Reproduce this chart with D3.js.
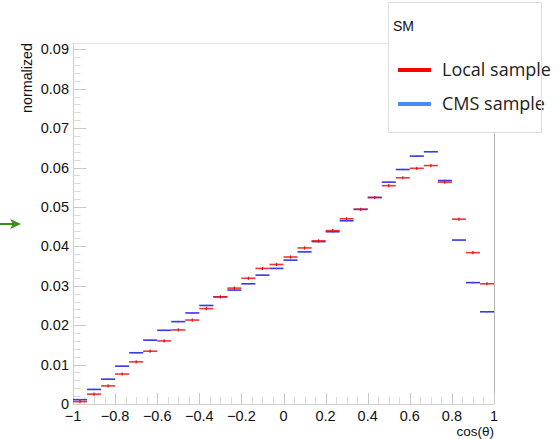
<!DOCTYPE html>
<html>
<head>
<meta charset="utf-8">
<script src="https://cdn.jsdelivr.net/npm/d3@7/dist/d3.min.js"></script>
<style>
  html, body { margin: 0; padding: 0; background: #fff; }
  svg { display: block; }
</style>
</head>
<body>
<svg id="chart" width="560" height="439"></svg>
<script>
// ---- data ----
var binEdgesMin = -1, binEdgesMax = 1, nBins = 30;

// normalized content per bin, left to right
var localSample = [
  0.0006, 0.0025, 0.0046, 0.0076, 0.0107, 0.0134, 0.0160, 0.0188, 0.0213, 0.0242,
  0.0272, 0.0294, 0.0319, 0.0344, 0.0354, 0.0373, 0.0396, 0.0414, 0.0440, 0.0470,
  0.0494, 0.0524, 0.0554, 0.0574, 0.0598, 0.0605, 0.0563, 0.0469, 0.0384, 0.0305
];
var cmsSample = [
  0.0011, 0.0037, 0.0063, 0.0096, 0.0130, 0.0162, 0.0187, 0.0209, 0.0231, 0.0250,
  0.0272, 0.0289, 0.0305, 0.0327, 0.0344, 0.0365, 0.0386, 0.0412, 0.0437, 0.0465,
  0.0494, 0.0524, 0.0563, 0.0595, 0.0629, 0.0640, 0.0567, 0.0416, 0.0308, 0.0234
];
var localErr = 0.0004, cmsErr = 0.0002;

var xTicks = [-1, -0.8, -0.6, -0.4, -0.2, 0, 0.2, 0.4, 0.6, 0.8, 1];
var yTicks = [0, 0.01, 0.02, 0.03, 0.04, 0.05, 0.06, 0.07, 0.08, 0.09];
var legendTitle = 'SM';
var legendNames = ['Local sample', 'CMS sample'];
var legendColors = ['#ff0000', '#4a8af4'];

(function() {
  // ---- layout ----
  var svg = d3.select('#chart');
  var plotL = 73, plotR = 494, plotT = 43, plotB = 404;

  var x = d3.scaleLinear().domain([-1, 1]).range([plotL, plotR]);
  var y = d3.scaleLinear().domain([0, 0.0916]).range([plotB, plotT]);

  var tickFont = '"Liberation Sans", Arial, sans-serif';
  var axisGray = '#d0d0d0';

  // frame lines (top + right)
  svg.append('line').attr('x1', plotL).attr('x2', plotR).attr('y1', plotT + 0.5).attr('y2', plotT + 0.5)
    .attr('stroke', '#e2e2e2').attr('stroke-width', 1);
  svg.append('line').attr('x1', plotR + 0.5).attr('x2', plotR + 0.5).attr('y1', plotT).attr('y2', plotB)
    .attr('stroke', '#b4b4b4').attr('stroke-width', 1);

  // ---- y axis ----
  var yg = svg.append('g').attr('transform', 'translate(' + (plotL + 0.5) + ',0)');
  yg.append('line').attr('y1', plotT).attr('y2', plotB).attr('stroke', axisGray);
  yg.selectAll('line.tk').data(d3.range(0, 46)).enter().append('line')
    .attr('class', 'tk')
    .attr('x1', 0)
    .attr('x2', function(i) { return i % 5 === 0 ? 13 : 7; })
    .attr('y1', function(i) { return Math.round(y(i * 0.002)) + 0.5; })
    .attr('y2', function(i) { return Math.round(y(i * 0.002)) + 0.5; })
    .attr('stroke', function(i) { return i % 5 === 0 ? '#c8c8c8' : '#dadada'; });
  svg.append('g').selectAll('text').data(yTicks).enter().append('text')
    .attr('x', plotL - 4)
    .attr('y', function(d) { return y(d) + 5; })
    .attr('text-anchor', 'end')
    .attr('font-family', tickFont).attr('font-size', 14.5).attr('fill', '#111')
    .text(function(d) { return d === 0 ? '0' : d3.format('.2f')(d); });

  svg.append('text')
    .attr('transform', 'translate(32,' + plotT + ') rotate(-90)')
    .attr('text-anchor', 'end')
    .attr('font-family', tickFont).attr('font-size', 14.3).attr('fill', '#111')
    .text('normalized');

  // ---- x axis ----
  var xg = svg.append('g');
  xg.append('line').attr('x1', plotL).attr('x2', plotR).attr('y1', plotB + 0.5).attr('y2', plotB + 0.5)
    .attr('stroke', axisGray);
  xg.selectAll('line.tk').data(d3.range(0, 41)).enter().append('line')
    .attr('class', 'tk')
    .attr('x1', function(i) { return Math.round(x(-1 + i * 0.05)) + 0.5; })
    .attr('x2', function(i) { return Math.round(x(-1 + i * 0.05)) + 0.5; })
    .attr('y1', plotB)
    .attr('y2', function(i) { return i % 4 === 0 ? plotB - 11 : plotB - 7; })
    .attr('stroke', function(i) { return i % 4 === 0 ? '#c8c8c8' : '#dadada'; });
  xg.selectAll('text').data(xTicks).enter().append('text')
    .attr('x', function(d) { return x(d); })
    .attr('y', plotB + 17)
    .attr('text-anchor', 'middle')
    .attr('font-family', tickFont).attr('font-size', 14.5).attr('fill', '#111')
    .text(function(d) { return d === 0 ? '0' : (d < 0 ? '\u2212' : '') + d3.format('~g')(Math.abs(d)); });

  svg.append('text')
    .attr('x', plotR).attr('y', plotB + 32)
    .attr('text-anchor', 'end')
    .attr('font-family', tickFont).attr('font-size', 13.5).attr('fill', '#111')
    .text('cos(\u03b8)');

  // ---- histograms ----
  var binW = (binEdgesMax - binEdgesMin) / nBins;

  function drawHist(values, err, color, errColor) {
    var g = svg.append('g');
    g.selectAll('line.bar').data(values).enter().append('line')
      .attr('x1', function(d, i) { return x(binEdgesMin + i * binW); })
      .attr('x2', function(d, i) { return x(binEdgesMin + (i + 1) * binW); })
      .attr('y1', function(d) { return y(d); })
      .attr('y2', function(d) { return y(d); })
      .attr('stroke', color).attr('stroke-width', 1.6).attr('stroke-opacity', 0.85);
    g.selectAll('line.err').data(values).enter().append('line')
      .attr('x1', function(d, i) { return x(binEdgesMin + (i + 0.5) * binW); })
      .attr('x2', function(d, i) { return x(binEdgesMin + (i + 0.5) * binW); })
      .attr('y1', function(d) { return y(d - err); })
      .attr('y2', function(d) { return y(d + err); })
      .attr('stroke', errColor).attr('stroke-width', 1.2);
  }
  drawHist(cmsSample, cmsErr, '#1414e6', '#4a4af0');
  drawHist(localSample, localErr, '#f01010', '#e01010');

  // ---- legend ----
  var lg = svg.append('g');
  lg.append('rect').attr('x', 388.5).attr('y', 2.5).attr('width', 153).attr('height', 130)
    .attr('fill', '#fff');
  lg.append('text').attr('x', 393).attr('y', 31)
    .attr('font-family', tickFont).attr('font-size', 14).attr('fill', '#111')
    .text(legendTitle);
  lg.selectAll('line.key').data(legendNames).enter().append('line')
    .attr('x1', 398).attr('x2', 431)
    .attr('y1', function(d, i) { return 70 + i * 34; })
    .attr('y2', function(d, i) { return 70 + i * 34; })
    .attr('stroke', function(d, i) { return legendColors[i]; })
    .attr('stroke-width', 4);
  lg.selectAll('text.name').data(legendNames).enter().append('text')
    .attr('x', 442)
    .attr('y', function(d, i) { return 76 + i * 34; })
    .attr('font-family', '"Open Sans", Lato, sans-serif').attr('font-size', 18).attr('fill', '#222')
    .text(function(d) { return d; });
  // border on top of the text, like the reference
  lg.append('rect').attr('x', 388.5).attr('y', 2.5).attr('width', 153).attr('height', 130)
    .attr('fill', 'none').attr('stroke', '#dedede');

  // ---- green arrow on the left edge ----
  svg.append('line').attr('x1', 0).attr('x2', 15).attr('y1', 224).attr('y2', 224)
    .attr('stroke', '#3a8a1e').attr('stroke-width', 2);
  svg.append('path').attr('d', 'M10,219 L21,224 L10,229 L13,224 Z').attr('fill', '#3a8a1e');
})();
</script>
</body>
</html>
